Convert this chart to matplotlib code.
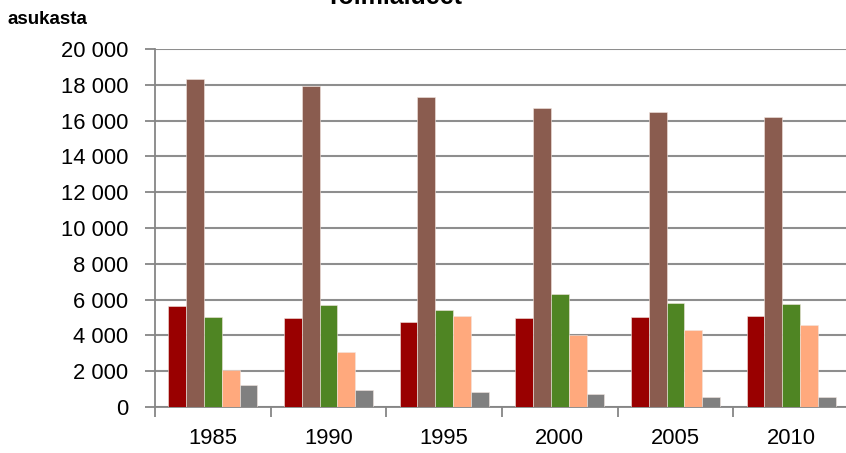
import matplotlib
matplotlib.use("Agg")
import matplotlib.pyplot as plt
import numpy as np

years = ["1985", "1990", "1995", "2000", "2005", "2010"]
series_a = [5660, 4970, 4770, 4970, 5050, 5060]       # dark red
series_b = [18320, 17930, 17320, 16700, 16460, 16190] # brown
series_c = [5050, 5700, 5400, 6310, 5790, 5740]       # green
series_d = [2070, 3090, 5080, 4040, 4320, 4600]       # salmon
series_e = [1210, 950, 820, 740, 560, 540]            # gray
series = [series_a, series_b, series_c, series_d, series_e]
colors = ["#990000", "#8A5C4F", "#4F8523", "#FFA97D", "#808080"]
yticks = [0, 2000, 4000, 6000, 8000, 10000, 12000, 14000, 16000, 18000, 20000]
ytick_labels = ["0", "2 000", "4 000", "6 000", "8 000", "10 000", "12 000",
                "14 000", "16 000", "18 000", "20 000"]

W, H = 846, 453
fig = plt.figure(figsize=(W / 100, H / 100), dpi=100)
left, right, top, bottom = 155, 849, 49, 407
ax = fig.add_axes([left / W, 1 - bottom / H, (right - left) / W, (bottom - top) / H])

font = "Liberation Sans"
n = len(series)
bw = 1 / 6.5
x = np.arange(len(years))
for i, (vals, c) in enumerate(zip(series, colors)):
    ax.bar(x + (i - (n - 1) / 2) * bw, vals, width=bw, color=c,
           edgecolor="#f2e6e0", linewidth=0.4, zorder=3)

ax.set_xlim(-0.5, len(years) - 0.5)
ax.set_ylim(0, 20000)
ax.set_yticks(yticks)
ax.set_yticklabels(ytick_labels, fontfamily=font, fontsize=15.8)
ax.set_xticks(x)
ax.set_xticklabels(years, fontfamily=font, fontsize=15.8)
ax.set_xticks(np.arange(-0.5, len(years), 1), minor=True)
ax.tick_params(axis="x", which="major", length=0, pad=15)
ax.tick_params(axis="x", which="minor", length=7, color="#868686", width=1.3)
ax.tick_params(axis="y", length=7, color="#868686", width=1.3, pad=12)
ax.grid(axis="y", color="#8e8e8e", linewidth=1.5, zorder=0)
for s in ["top", "right"]:
    ax.spines[s].set_visible(False)
for s in ["left", "bottom"]:
    ax.spines[s].set_color("#868686")
    ax.spines[s].set_linewidth(1.3)

fig.text(7 / W, 1 - 19 / H, "asukasta", fontfamily=font, fontweight="bold",
         fontsize=13.5, ha="left", va="center")
fig.text(394 / W, 1 - 4 / H, "Toimialueet", fontfamily=font, fontweight="bold",
         fontsize=18, ha="center", va="baseline")

fig.savefig("out.png", dpi=100)
